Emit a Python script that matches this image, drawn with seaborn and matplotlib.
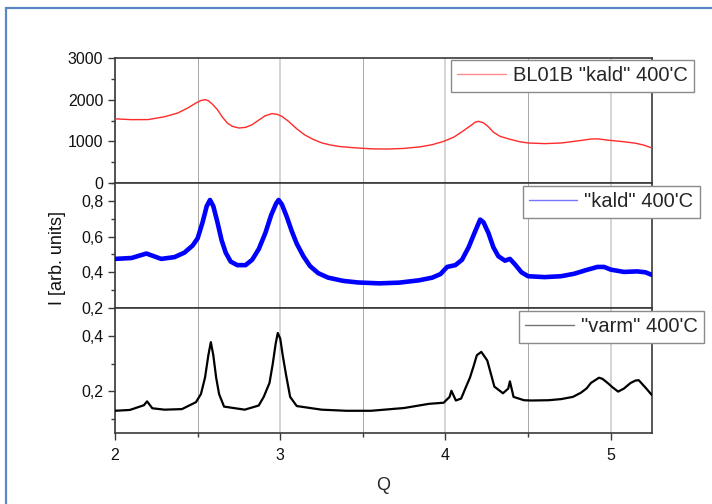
import matplotlib
matplotlib.use("Agg")
import matplotlib.pyplot as plt
import matplotlib.patches as mpatches
from matplotlib.ticker import MultipleLocator, FuncFormatter
import seaborn as sns
import pandas as pd

# Scattering intensity I(Q) for three samples
red_q = [2.00, 2.10, 2.20, 2.30, 2.38, 2.44, 2.49, 2.52, 2.545, 2.565, 2.59,
         2.62, 2.65, 2.68, 2.71, 2.75, 2.79, 2.83, 2.87, 2.91, 2.95, 2.98,
         3.01, 3.05, 3.10, 3.15, 3.20, 3.25, 3.30, 3.36, 3.45, 3.55, 3.65,
         3.75, 3.85, 3.92, 3.99, 4.05, 4.10, 4.15, 4.18, 4.20, 4.23, 4.26,
         4.29, 4.33, 4.39, 4.45, 4.50, 4.60, 4.70, 4.80, 4.88, 4.92, 4.98,
         5.08, 5.15, 5.20, 5.25]
red_i = [1540, 1520, 1522, 1590, 1680, 1800, 1920, 1980, 2000, 1975, 1890,
         1760, 1580, 1440, 1360, 1320, 1335, 1400, 1510, 1615, 1665, 1650,
         1600, 1480, 1300, 1150, 1045, 965, 915, 875, 845, 820, 815,
         830, 870, 920, 1000, 1100, 1230, 1370, 1460, 1480, 1445, 1350,
         1220, 1120, 1050, 990, 960, 945, 960, 1010, 1055, 1060, 1030,
         990, 955, 910, 840]

blue_q = [2.00, 2.10, 2.19, 2.28, 2.36, 2.42, 2.47, 2.50, 2.53, 2.555, 2.575,
          2.595, 2.62, 2.645, 2.67, 2.70, 2.74, 2.79, 2.83, 2.87, 2.91, 2.945,
          2.975, 2.99, 3.01, 3.04, 3.07, 3.10, 3.14, 3.18, 3.23, 3.29, 3.38,
          3.47, 3.60, 3.72, 3.84, 3.92, 3.97, 4.01, 4.06, 4.10, 4.14, 4.18,
          4.21, 4.23, 4.26, 4.29, 4.32, 4.36, 4.39, 4.42, 4.46, 4.50, 4.60,
          4.70, 4.78, 4.85, 4.92, 4.96, 5.00, 5.08, 5.16, 5.21, 5.25]
blue_i = [0.475, 0.48, 0.505, 0.475, 0.485, 0.51, 0.55, 0.59, 0.68, 0.77, 0.805,
          0.77, 0.68, 0.58, 0.51, 0.46, 0.44, 0.44, 0.47, 0.53, 0.62, 0.72,
          0.785, 0.805, 0.78, 0.71, 0.63, 0.56, 0.49, 0.435, 0.395, 0.37, 0.352,
          0.343, 0.338, 0.342, 0.355, 0.37, 0.39, 0.43, 0.44, 0.47, 0.54, 0.63,
          0.695, 0.68, 0.62, 0.54, 0.49, 0.465, 0.475, 0.445, 0.40, 0.378, 0.373,
          0.378, 0.392, 0.412, 0.43, 0.43, 0.415, 0.402, 0.405, 0.40, 0.385]

black_q = [2.00, 2.09, 2.175, 2.194, 2.226, 2.30, 2.405, 2.49, 2.52, 2.545,
           2.565, 2.58, 2.595, 2.612, 2.63, 2.66, 2.785, 2.87, 2.90, 2.935,
           2.955, 2.972, 2.985, 3.00, 3.015, 3.035, 3.06, 3.10, 3.25, 3.40,
           3.55, 3.75, 3.90, 3.989, 4.025, 4.036, 4.063, 4.095, 4.12, 4.148,
           4.17, 4.19, 4.217, 4.253, 4.296, 4.348, 4.38, 4.39, 4.412, 4.475,
           4.52, 4.623, 4.70, 4.771, 4.82, 4.855, 4.88, 4.929, 4.95, 4.982,
           5.01, 5.045, 5.08, 5.12, 5.151, 5.17, 5.214, 5.25]
black_i = [0.130, 0.133, 0.150, 0.164, 0.139, 0.134, 0.136, 0.161, 0.19, 0.25,
           0.33, 0.377, 0.33, 0.25, 0.19, 0.145, 0.134, 0.149, 0.18, 0.23,
           0.30, 0.37, 0.41, 0.39, 0.33, 0.26, 0.18, 0.147, 0.134, 0.13,
           0.13, 0.14, 0.155, 0.159, 0.18, 0.202, 0.167, 0.174, 0.21, 0.249,
           0.29, 0.33, 0.342, 0.311, 0.217, 0.193, 0.21, 0.236, 0.18, 0.168,
           0.167, 0.168, 0.172, 0.18, 0.195, 0.211, 0.23, 0.249, 0.245, 0.23,
           0.215, 0.199, 0.21, 0.23, 0.239, 0.24, 0.211, 0.186]

labels = ['BL01B "kald" 400\'C', '"kald" 400\'C', '"varm" 400\'C']
colors = ["#ff2a2a", "#0000ff", "#000000"]
widths = [1.0, 3.3, 1.6]

sns.set_theme(style="ticks")
plt.rcParams["font.family"] = ["Liberation Sans", "DejaVu Sans"]

fig = plt.figure(figsize=(7.12, 5.04), dpi=100)
gs = fig.add_gridspec(3, 1, left=115/712, right=652/712,
                      top=1-58/504, bottom=1-433/504, hspace=0)
axes = [fig.add_subplot(gs[i]) for i in range(3)]
for a in axes[1:]:
    a.sharex(axes[0])

frames = [pd.DataFrame({"Q": red_q, "I": red_i}),
          pd.DataFrame({"Q": blue_q, "I": blue_i}),
          pd.DataFrame({"Q": black_q, "I": black_i})]

ylims = [(0, 3000), (0.2, 0.9), (0.05, 0.5)]
majors = [1000, 0.2, 0.2]
minors = [500, 0.1, 0.1]
legend_anchor = [(694, 60), (700, 186), (704, 311)]

comma = FuncFormatter(lambda v, _: f"{v:.1f}".replace(".", ","))
spine_col = "#3a3a3a"

for k, ax in enumerate(axes):
    sns.lineplot(data=frames[k], x="Q", y="I", ax=ax, color=colors[k],
                 linewidth=widths[k], label=labels[k], sort=False, zorder=3)
    ax.set_xlim(2, 5.25)
    ax.set_ylim(*ylims[k])
    ax.xaxis.set_major_locator(MultipleLocator(1))
    ax.xaxis.set_minor_locator(MultipleLocator(0.5))
    ax.yaxis.set_major_locator(MultipleLocator(majors[k]))
    ax.yaxis.set_minor_locator(MultipleLocator(minors[k]))
    if k > 0:
        ax.yaxis.set_major_formatter(comma)
    if k == 2:
        ax.set_yticks([0.2, 0.4])
        ax.set_yticks([0.1, 0.3], minor=True)
    ax.grid(True, axis="x", which="major", color="#d4d4d4", linewidth=1.4, zorder=0)
    ax.grid(True, axis="x", which="minor", color="#a8a8a8", linewidth=0.7, zorder=0)
    ax.tick_params(axis="both", which="major", direction="out", length=5,
                   width=1.0, color=spine_col, labelsize=11.5, labelcolor="#111111")
    ax.tick_params(axis="both", which="minor", direction="out", length=3,
                   width=1.0, color=spine_col)
    ax.tick_params(axis="x", which="major", pad=6)
    if k < 2:
        ax.tick_params(axis="x", which="both", labelbottom=False)
    for s in ax.spines.values():
        s.set_visible(True)
        s.set_color(spine_col)
        s.set_linewidth(1.2)
    ax.set_xlabel("")
    ax.set_ylabel("")
    ax.set_facecolor("white")
    ax.set_axisbelow(True)
    ax.legend(loc="upper right", bbox_to_anchor=(legend_anchor[k][0]/712, 1-legend_anchor[k][1]/504),
              bbox_transform=fig.transFigure, borderaxespad=0, fontsize=14.5,
              frameon=True, fancybox=False, edgecolor="#8a8a8a", framealpha=1,
              handlelength=2.4, handletextpad=0.35, borderpad=0.32)
    ax.get_legend().get_frame().set_linewidth(1.0)
    for h in ax.get_legend().get_lines():
        h.set_linewidth(1.0)
        h.set_alpha(0.55)

axes[2].set_xlabel("Q", fontsize=13, labelpad=10)
fig.text(57/712, 1-258/504, "I [arb. units]", rotation=90, fontsize=13,
         ha="center", va="center", color="#111111")

# Outer frame
fig.patches.append(mpatches.Rectangle((6/712, -0.1), 1.2, 1.1 - 8/504,
                                      transform=fig.transFigure, fill=False,
                                      edgecolor="#5b87c6", linewidth=1.6, zorder=10))

fig.savefig("out.png", dpi=100, facecolor="white")
